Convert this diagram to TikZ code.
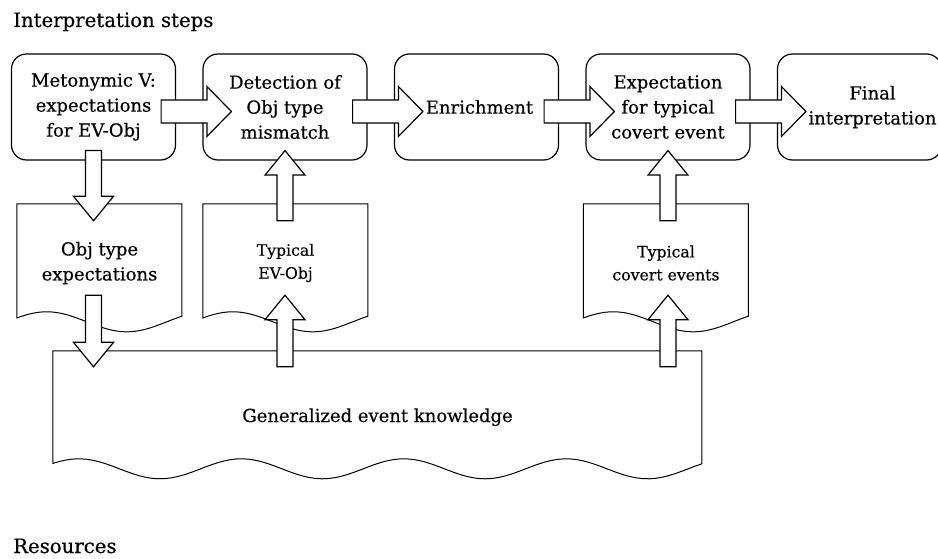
\documentclass[tikz,border=0pt]{standalone}
\usepackage{fontspec}
\setmainfont{DejaVu Serif}[FakeBold=0.4]
\usetikzlibrary{positioning,calc}

\tikzset{
  paso/.style={draw, rounded corners=15pt, line width=1.2pt, minimum width=164pt,
    minimum height=106pt, align=center, inner sep=2pt, font=\fontsize{18}{25}\selectfont},
  recurso/.style={minimum width=165pt, minimum height=118pt, align=center, inner sep=0pt,
    font=\fontsize{18}{25}\selectfont},
  recursochico/.style={recurso, font=\fontsize{15.7}{23}\selectfont},
  hoja/.style={line width=1pt},
  flecha/.style={draw, fill=white, line width=1.2pt, line join=miter},
  titulo/.style={anchor=base west, inner sep=0pt, font=\fontsize{19.7}{24}\selectfont}
}

% flecha gruesa: desde, hasta, media cana, media punta
\newcommand{\flechagorda}[4]{%
  \coordinate (fg-h) at ($(#2)!24.5pt!(#1)$);
  \draw[flecha] ($(#1)!#3!90:(#2)$) -- ($(fg-h)!#3!90:(#2)$) -- ($(fg-h)!#4!90:(#2)$)
    -- (#2) -- ($(fg-h)!#4!-90:(#2)$) -- ($(fg-h)!#3!-90:(#2)$)
    -- ($(#1)!#3!-90:(#2)$) -- cycle;}

% hoja con borde ondulado: nodo, ancho, periodo, fase
\newcommand{\hojaondulada}[4]{%
  \draw[hoja, shift={(#1.north west)}] (0,0)
    -- plot[domain=0:#2, samples=100, variable=\px] (\px,{118-10*cos((360/#3)*(\px-#4))})
    -- (#2,0) -- cycle;}

\begin{document}
\begin{tikzpicture}[x=1pt, y=-1pt]
\useasboundingbox (0,0) rectangle (938,559);

% Titulos
\node[titulo] (tpasos) at (13,27) {Interpretation steps};
\node[titulo] (trec) at (13,553) {Resources};

% Pasos
\node[paso] (b1) at (93.5,107) {Metonymic V:\\expectations\\for EV-Obj};
\node[paso, right=26.3pt of b1] (b2) {Detection of\\Obj type\\mismatch};
\node[paso, right=26.3pt of b2] (b3) {\hspace*{6pt}Enrichment};
\node[paso, right=26.3pt of b3] (b4) {Expectation\\for typical\\covert event};
\node[paso, right=26.3pt of b4] (b5) {\hspace*{26pt}Final\\\hspace*{26pt}interpretation};

% Recursos
\node[recurso] (d1) at (99.5,263) {Obj type\\expectations};
\node[recursochico] (d2) at (285.5,263) {Typical\\EV-Obj};
\node[recursochico] (d3) at (666,263) {Typical\\covert events};
\node[recurso, minimum width=649pt, text height=24pt, text depth=0pt] (gek) at (377.5,410)
  {Generalized event knowledge};

\hojaondulada{d1}{165}{160}{30}
\hojaondulada{d2}{165}{160}{30}
\hojaondulada{d3}{165}{160}{30}
\hojaondulada{gek}{649}{162.5}{26}

% Flechas entre pasos
\foreach \a/\b in {b1/b2,b2/b3,b3/b4,b4/b5}{
  \coordinate (\a-sal) at ([xshift=-15pt,yshift=-4.5pt]\a.east);
  \coordinate (\b-ent) at ([xshift=29pt,yshift=-4.5pt]\b.west);
  \flechagorda{\a-sal}{\b-ent}{11.5pt}{25pt}
}

% Flechas verticales
\coordinate (v1a) at ($(b1.south)+(0,-10)$);
\coordinate (v1b) at ($(b1.south |- d1.north)+(0,17)$);
\coordinate (v2a) at ($(b1.south |- d1.south)+(0,-27)$);
\coordinate (v2b) at ($(b1.south |- gek.north)+(0,16)$);
\coordinate (v3a) at ($(b2.south |- gek.north)+(0,16)$);
\coordinate (v3b) at ($(b2.south |- d2.south)+(0,-27)$);
\coordinate (v4a) at ($(b2.south |- d2.north)+(0,17)$);
\coordinate (v4b) at ($(b2.south)+(0,-10)$);
\coordinate (v5a) at ($(b4.south |- gek.north)+(0,16)$);
\coordinate (v5b) at ($(b4.south |- d3.south)+(0,-27)$);
\coordinate (v6a) at ($(b4.south |- d3.north)+(0,17)$);
\coordinate (v6b) at ($(b4.south)+(0,-10)$);

\foreach \p/\q in {v1a/v1b,v2a/v2b,v3a/v3b,v4a/v4b,v5a/v5b,v6a/v6b}{
  \flechagorda{\p}{\q}{8pt}{20pt}
}

\end{tikzpicture}
\end{document}
